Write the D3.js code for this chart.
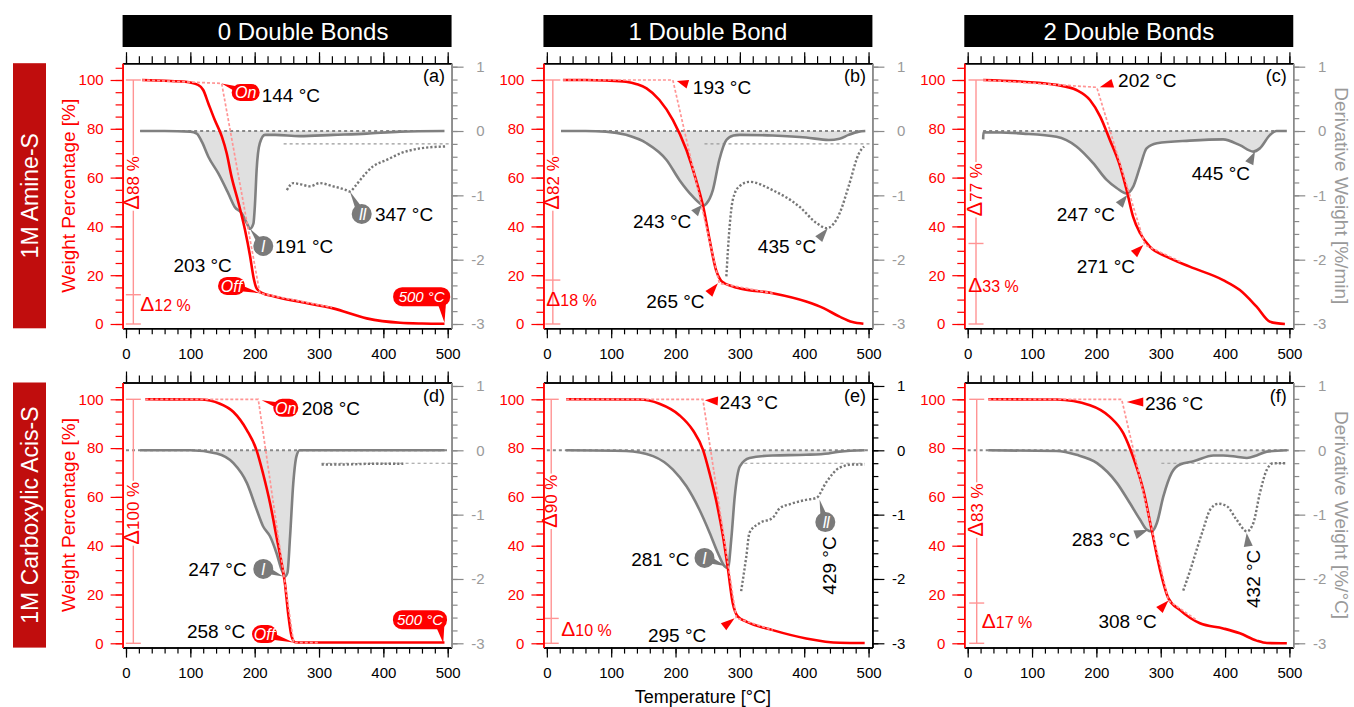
<!DOCTYPE html>
<html><head><meta charset="utf-8">
<script src="https://cdn.jsdelivr.net/npm/d3@7"></script>
<style>
body{margin:0;background:#fff}
text{font-family:"Liberation Sans",Arial,Helvetica,sans-serif}
</style>
</head><body>
<svg id="c" width="1354" height="707"></svg>
<script>
// ---------------- categories / labels ----------------
const colTitles = ["0 Double Bonds", "1 Double Bond", "2 Double Bonds"];
const rowLabels = ["1M Amine-S", "1M Carboxylic Acis-S"];
const panelLetters = ["(a)", "(b)", "(c)", "(d)", "(e)", "(f)"];
const tempTicks = [0, 100, 200, 300, 400, 500];
const weightTicks = [0, 20, 40, 60, 80, 100];
const derivTicks = [-3, -2, -1, 0, 1];
const xTitle = "Temperature [°C]";
const yLeftTitle = "Weight Percentage [%]";
const yRightTitles = ["Derivative Weight [%/min]", "Derivative Weight [%/°C]"];

// ---------------- panel (a) ----------------
const tempTgaA = [25, 60, 92, 112, 120, 128, 138, 149, 156.5, 164, 175, 185, 193, 198, 203, 211, 232, 270, 322, 374, 426, 460, 495];
const weightA  = [100, 99.7, 99.3, 98, 95.9, 90.4, 83.6, 76.8, 70, 60.4, 49.5, 38.5, 27.6, 19.4, 14.6, 12.8, 11.2, 9.1, 6.4, 2.3, 0.5, 0.2, 0.1];
const tempDtgA = [22, 60, 100, 110, 118, 128, 143.5, 159, 169, 180, 188, 192.7, 198, 200.5, 203, 208, 216, 232, 270, 322, 374, 426, 495];
const derivA   = [0, 0, -0.01, -0.04, -0.17, -0.4, -0.66, -0.97, -1.18, -1.28, -1.44, -1.52, -1.44, -1.13, -0.61, -0.19, -0.06, -0.06, -0.08, -0.06, -0.04, -0.01, 0];
const tempMagA = [250, 260, 272, 286, 301, 322, 340, 348, 356, 364, 384, 405, 426, 457, 496];
const magA     = [-0.92, -0.81, -0.83, -0.86, -0.81, -0.86, -0.91, -0.94, -0.86, -0.76, -0.55, -0.45, -0.35, -0.27, -0.24];
const tanTA    = [25, 148.7, 208, 320];
const tanWA    = [100, 98.6, 12.6, 6.8];

// ---------------- panel (b) ----------------
const tempTgaB = [25, 60, 92, 123, 140, 155, 175, 196, 217, 232, 243, 253, 263, 270, 276, 290, 300, 351, 403, 430, 455, 475, 492];
const weightB  = [100, 100, 99.8, 99.3, 98.3, 96.6, 91.8, 83.6, 71.3, 59, 48.1, 34.4, 22.1, 18, 16.7, 15.3, 14.6, 12.6, 9.2, 6.5, 3.0, 0.8, 0.1];
const tempDtgB = [22, 60, 92, 123, 155, 186, 206, 227, 240, 244, 248, 258, 268, 279, 290, 300, 351, 403, 438, 455, 469, 485, 495];
const derivB   = [0, 0, -0.01, -0.06, -0.19, -0.45, -0.76, -1.02, -1.14, -1.16, -1.13, -0.92, -0.45, -0.14, -0.07, -0.06, -0.07, -0.1, -0.14, -0.12, -0.06, -0.01, 0];
const tempMagB = [279, 284, 289, 299, 315, 351, 393, 419, 435, 455, 469, 485, 493];
const magB     = [-2.26, -1.49, -1.07, -0.86, -0.79, -0.92, -1.18, -1.43, -1.51, -1.28, -0.86, -0.35, -0.24];
const tanTB    = [25, 195.8, 268, 351];
const tanWB    = [100, 100, 16.7, 12.6];

// ---------------- panel (c) ----------------
const tempTgaC = [24, 86, 138, 169, 190, 206, 221, 237, 247, 257, 268, 283, 309, 345, 397, 423, 449, 470, 493];
const weightC  = [100, 99.3, 98, 95.9, 91.8, 85, 75.4, 64.5, 54.9, 44, 37.2, 31.7, 27.6, 23.5, 18, 13.9, 7.1, 0.9, 0];
const tempDtgC = [24, 24.5, 86, 138, 169, 195, 216, 232, 247, 257, 268, 278, 294, 345, 397, 423, 444, 454, 470, 480, 496];
const derivC   = [-0.13, -0.02, -0.04, -0.09, -0.24, -0.5, -0.76, -0.89, -0.97, -0.87, -0.55, -0.27, -0.19, -0.15, -0.13, -0.22, -0.32, -0.27, -0.06, 0, 0];
const tanTC    = [24, 200.6, 275.6, 331];
const tanWC    = [100, 97, 32.4, 25.5];

// ---------------- panel (d) ----------------
const tempTgaD = [30, 115, 146, 167, 188, 203, 213, 224, 234, 242, 247, 252, 257.5, 263, 270, 300, 400, 495];
const weightD  = [100, 99.9, 98.2, 94.8, 87.3, 79.1, 69.6, 57.3, 43.6, 32.7, 24.6, 12.3, 2.7, 0.4, 0.3, 0.3, 0.3, 0.3];
const tempDtgD = [22, 100, 141, 167, 188, 203, 213, 224, 234, 242, 247, 251, 255, 260, 265, 270, 300, 495];
const derivD   = [0, 0, -0.05, -0.2, -0.51, -0.92, -1.18, -1.34, -1.6, -1.86, -1.96, -1.9, -1.34, -0.51, -0.09, 0, 0, 0];
const tempMagD = [304, 340, 380, 431];
const magD     = [-0.22, -0.22, -0.21, -0.21];
const tanTD    = [30, 205.6, 260.5, 300];
const tanWD    = [100, 100, 0.3, 0.3];

// ---------------- panel (e) ----------------
const tempTgaE = [30, 144, 175, 206, 227, 243, 253, 263, 274, 281, 289, 297, 310, 351, 403, 455, 494];
const weightE  = [100, 99.9, 98.2, 93.5, 87.3, 79.1, 69.6, 58.7, 43.6, 31.4, 16.4, 10.9, 8.9, 5.4, 2, 0.2, 0.1];
const tempDtgE = [30, 123, 165, 196, 217, 237, 253, 266, 276, 281.4, 287, 292, 300, 315, 351, 403, 438, 455, 494];
const derivE   = [0, -0.01, -0.09, -0.3, -0.56, -0.92, -1.28, -1.6, -1.8, -1.83, -1.34, -0.72, -0.25, -0.12, -0.08, -0.07, -0.05, -0.02, 0];
const tempMagE = [302, 310, 315, 331, 351, 362, 377, 403, 419, 434, 455, 476, 494];
const magE     = [-2.19, -1.65, -1.28, -1.13, -1.05, -0.9, -0.84, -0.77, -0.74, -0.5, -0.27, -0.22, -0.22];
const tanTE    = [30, 242.5, 294.4, 351];
const tanWE    = [100, 100, 10.4, 5.4];

// ---------------- panel (f) ----------------
const tempTgaF = [32, 138, 190, 221, 242, 257, 273, 286, 299, 312, 330, 361, 397, 423, 449, 465, 496];
const weightF  = [100, 99.9, 97.6, 92.8, 86, 76.4, 62.7, 46.4, 30, 18.4, 13.6, 8.2, 6.1, 4.1, 1.1, 0.1, 0];
const tempDtgF = [32, 138, 169, 201, 232, 252, 268, 278, 286, 294, 304, 317, 330, 351, 382, 397, 418, 434, 449, 465, 496];
const derivF   = [0, -0.01, -0.07, -0.2, -0.51, -0.82, -1.08, -1.23, -1.26, -1.13, -0.72, -0.35, -0.22, -0.17, -0.08, -0.08, -0.1, -0.12, -0.08, -0.02, 0];
const tempMagF = [335, 346, 356, 366, 377, 390, 403, 418, 434, 444, 454, 465, 475, 496];
const magF     = [-2.18, -1.86, -1.54, -1.23, -0.92, -0.83, -0.87, -1.08, -1.26, -1.13, -0.67, -0.3, -0.2, -0.2];
const tanTF    = [32, 239.3, 312, 356];
const tanWF    = [100, 100, 17.5, 9.5];

// mass-loss steps (Δ brackets)
const stepsA = [100, 12, 0], stepsB = [100, 18, 0], stepsC = [100, 33, 0];
const stepsD = [100, 0], stepsE = [100, 10.2, 0], stepsF = [100, 16.5, 0];
const deltaTextsA = ["88 %", "12 %"], deltaTextsB = ["82 %", "18 %"], deltaTextsC = ["77 %", "33 %"];
const deltaTextsD = ["100 %"], deltaTextsE = ["90 %", "10 %"], deltaTextsF = ["83 %", "17 %"];

// ---------------- build panels ----------------
const zip = (a, b) => a.map((v, i) => [v, b[i]]);
const panels = [
  {col:0,row:0, tga:zip(tempTgaA,weightA), dtg:zip(tempDtgA,derivA), mag:zip(tempMagA,magA), tan:zip(tanTA,tanWA),
   magBase:[245,506], zeroBase:[22,496], steps:stepsA, dtx:deltaTextsA,
   bracket:{T:11.4, big:57.8, small:7.8, sdx:7},
   ann:[
    {kind:'pill',color:'red',at:[148.7,98.6,'L'],c:[24,9],w:28,h:17,label:'On',text:{s:'144 °C',d:[40,18.3]}},
    {kind:'circle',color:'gray',at:[192.7,-1.52,'R'],c:[13.3,17.2],w:20,h:20,label:'I',text:{s:'191 °C',d:[25,24.2]}},
    {kind:'circle',color:'gray',at:[348,-0.94,'R'],c:[11.8,22.5],w:20,h:20,label:'II',text:{s:'347 °C',d:[25,29.2]}},
    {kind:'pill',color:'red',at:[208,12.6,'L'],c:[-28.3,-7.3],w:27,h:18,label:'Off',text:{s:'203 °C',d:[-28,-21.6],anchor:'end'}},
    {kind:'rect',color:'red',at:[495,0.5,'L'],c:[-22.8,-26.1],w:57,h:19,tb:[20,5],label:'500 °C'}
   ]},
  {col:1,row:0, tga:zip(tempTgaB,weightB), dtg:zip(tempDtgB,derivB), mag:zip(tempMagB,magB), tan:zip(tanTB,tanWB),
   magBase:[245,503], zeroBase:[22,496], steps:stepsB, dtx:deltaTextsB,
   bracket:{T:9.3, big:57.8, small:9.8, sdx:-6.6},
   ann:[
    {kind:'tri',color:'red',at:[195.8,100,'L'],tip:[4,1],c:[11,3.2],text:{s:'193 °C',d:[16,13]}},
    {kind:'tri',color:'red',at:[268,16.7,'L'],tip:[-1.4,0],c:[-9,10.7],text:{s:'265 °C',d:[-13.3,25],anchor:'end'}},
    {kind:'tri',color:'gray',at:[243,-1.15,'R'],tip:[-1.3,0],c:[-7.3,8.3],text:{s:'243 °C',d:[-10.6,23.3],anchor:'end'}},
    {kind:'tri',color:'gray',at:[435,-1.51,'R'],tip:[1,0],c:[-9,11],text:{s:'435 °C',d:[-11.6,25],anchor:'end'}}
   ]},
  {col:2,row:0, tga:zip(tempTgaC,weightC), dtg:zip(tempDtgC,derivC), mag:null, tan:zip(tanTC,tanWC),
   magBase:null, zeroBase:[24,496], steps:stepsC, dtx:deltaTextsC,
   bracket:{T:12.9, big:55, small:15.6, sdx:-7.7},
   ann:[
    {kind:'tri',color:'red',at:[200.6,97,'L'],tip:[3,0],c:[13,-4],text:{s:'202 °C',d:[18.3,0]}},
    {kind:'tri',color:'red',at:[275.6,32.4,'L'],tip:[-1.7,0],c:[-9.3,9],text:{s:'271 °C',d:[-8.3,28.3],anchor:'end'}},
    {kind:'tri',color:'gray',at:[247,-0.97,'R'],tip:[0.7,1.6],c:[-8,10],text:{s:'247 °C',d:[-12.3,25.7],anchor:'end'}},
    {kind:'tri',color:'gray',at:[444,-0.32,'R'],tip:[1.6,0],c:[-5.7,11.6],text:{s:'445 °C',d:[-5,28.3],anchor:'end'}}
   ]},
  {col:0,row:1, tga:zip(tempTgaD,weightD), dtg:zip(tempDtgD,derivD), mag:zip(tempMagD,magD), tan:zip(tanTD,tanWD),
   magBase:[304,506], zeroBase:[0,500], steps:stepsD, dtx:deltaTextsD,
   bracket:{T:11.4, big:53.3},
   ann:[
    {kind:'pill',color:'red',at:[205.6,100,'L'],tip:[3.4,1],c:[24.1,7.5],w:25,h:18,label:'On',text:{s:'208 °C',d:[40,15]}},
    {kind:'pill',color:'red',at:[260.5,0.3,'L'],c:[-29.1,-8.5],w:25,h:18,label:'Off',text:{s:'258 °C',d:[-48.3,-4.4],anchor:'end'}},
    {kind:'rect',color:'red',at:[495,0.3,'L'],tip:[-1.2,0.7],c:[-23.3,-23.6],w:54,h:19,tb:[20,5],label:'500 °C'},
    {kind:'circle',color:'gray',at:[247.1,-1.96,'R'],tip:[-1.7,0],c:[-20,-7.5],w:20,h:20,label:'I',text:{s:'247 °C',d:[-36.6,0],anchor:'end'}}
   ]},
  {col:1,row:1, tga:zip(tempTgaE,weightE), dtg:zip(tempDtgE,derivE), mag:zip(tempMagE,magE), tan:zip(tanTE,tanWE),
   magBase:[307,494], zeroBase:[0,500], steps:stepsE, dtx:deltaTextsE, rightBlack:true,
   bracket:{T:6.8, big:58.2, small:5.4, sdx:10},
   ann:[
    {kind:'tri',color:'red',at:[242.5,100,'L'],tip:[2,1],c:[13,0.7],text:{s:'243 °C',d:[14.7,8.3]}},
    {kind:'tri',color:'red',at:[294.4,10.4,'L'],tip:[-1.7,0.4],c:[-11,8.4],text:{s:'295 °C',d:[-28.3,23.4],anchor:'end'}},
    {kind:'circle',color:'gray',at:[281.4,-1.83,'R'],tip:[-1.7,-1.7],c:[-21.7,-8.4],w:20,h:20,label:'I',text:{s:'281 °C',d:[-36.7,0],anchor:'end'}},
    {kind:'circle',color:'gray',at:[421,-0.74,'R'],tip:[1.8,1.7],c:[5.8,22.5],w:20,h:20,label:'II',text:{s:'429 °C',d:[16.7,36.7],anchor:'end',rot:-90}}
   ]},
  {col:2,row:1, tga:zip(tempTgaF,weightF), dtg:zip(tempDtgF,derivF), mag:zip(tempMagF,magF), tan:zip(tanTF,tanWF),
   magBase:[301,495], zeroBase:[0,500], steps:stepsF, dtx:deltaTextsF,
   bracket:{T:14, big:54.6, small:8.7, sdx:5},
   ann:[
    {kind:'tri',color:'red',at:[239.3,100,'L'],tip:[5,2.7],c:[16.6,0],text:{s:'236 °C',d:[18.3,7.6]}},
    {kind:'tri',color:'red',at:[312,17.5,'L'],c:[-9,9.4],text:{s:'308 °C',d:[-11.7,27.7],anchor:'end'}},
    {kind:'tri',color:'gray',at:[286,-1.26,'R'],tip:[-3.4,-1.7],c:[-13.3,5],text:{s:'283 °C',d:[-18.3,16.7],anchor:'end'}},
    {kind:'tri',color:'gray',at:[433.6,-1.26,'R'],tip:[0,1.6],c:[1.6,13.4],text:{s:'432 °C',d:[13.3,16.7],anchor:'end',rot:-90}}
   ]}
];

// ---------------- layout ----------------
const KX = 0.6434, KL = 2.44, KR = 64.33;
const colX0 = [126, 546.85, 967.7];
const rowY0 = [324, 643.3];
const titleDx = [16, 0, 0];
const RED = "#ff0000", GRAY = "#808080", PINK = "#ff9494", REDBOX = "#c00d0d";

const svg = d3.select("#c");

function styleAxis(g, col, fs) {
  g.selectAll(".domain").attr("stroke", col).attr("stroke-width", 1.5);
  g.selectAll(".tick line").attr("stroke", col).attr("stroke-width", 1.2);
  g.selectAll("text").attr("font-size", fs || 15).attr("font-family", '"Liberation Sans",Arial,sans-serif');
}

panels.forEach((p, pi) => {
  const x0 = colX0[p.col], y0 = rowY0[p.row];
  const fl = x0 - 5.3 * KX, fr = x0 + 506 * KX;
  const top = y0 - 260.8, bot = y0 + 4.3;
  const x = d3.scaleLinear().domain([-5.3, 506]).range([fl, fr]);
  const yL = d3.scaleLinear().domain([0, 100]).range([y0, y0 - 100 * KL]);
  const yR = d3.scaleLinear().domain([-3, 1]).range([y0, y0 - 4 * KR]);
  const yLa = d3.scaleLinear().domain([yL.invert(bot), yL.invert(top)]).range([bot, top]);
  const yRa = d3.scaleLinear().domain([yR.invert(bot), yR.invert(top)]).range([bot, top]);
  const g = svg.append("g");

  // title box (top row)
  if (p.row === 0) {
    svg.append("rect").attr("x", fl).attr("y", 15).attr("width", fr - fl).attr("height", 32).attr("fill", "#000");
    svg.append("text").attr("x", (fl + fr) / 2 + titleDx[p.col]).attr("y", 39.5).attr("text-anchor", "middle")
      .attr("fill", "#fff").attr("font-size", 24).text(colTitles[p.col]);
  }

  // DTG fill
  const areaGen = d3.area().x(d => x(d[0])).y0(yR(0)).y1(d => yR(d[1])).curve(d3.curveMonotoneX);
  g.append("path").datum(p.dtg).attr("d", areaGen).attr("fill", "#e0e0e0");
  // zero baseline
  g.append("line").attr("x1", x(p.zeroBase[0])).attr("x2", x(p.zeroBase[1]))
    .attr("y1", yR(0)).attr("y2", yR(0)).attr("stroke", "#888").attr("stroke-width", 2).attr("stroke-dasharray", "3,3");
  // magnified baseline
  if (p.magBase) {
    g.append("line").attr("x1", x(p.magBase[0])).attr("x2", x(p.magBase[1]))
      .attr("y1", yR(-0.2)).attr("y2", yR(-0.2)).attr("stroke", "#999").attr("stroke-width", 1.1).attr("stroke-dasharray", "3,3");
  }
  const lineR = d3.line().x(d => x(d[0])).y(d => yR(d[1])).curve(d3.curveMonotoneX);
  const lineL = d3.line().x(d => x(d[0])).y(d => yL(d[1])).curve(d3.curveMonotoneX);
  g.append("path").datum(p.dtg).attr("d", lineR).attr("fill", "none").attr("stroke", GRAY).attr("stroke-width", 2.6);
  if (p.mag) {
    g.append("path").datum(p.mag).attr("d", lineR).attr("fill", "none").attr("stroke", "#777")
      .attr("stroke-width", 2.4).attr("stroke-dasharray", "2.2,2");
  }
  // TGA
  g.append("path").datum(p.tga).attr("d", lineL).attr("fill", "none").attr("stroke", RED).attr("stroke-width", 2.6);
  // tangents
  g.append("path").datum(p.tan).attr("d", d3.line().x(d => x(d[0])).y(d => yL(d[1])))
    .attr("fill", "none").attr("stroke", PINK).attr("stroke-width", 1.7).attr("stroke-dasharray", "3,2");

  // Δ bracket
  const bx = x(p.bracket.T);
  g.append("line").attr("x1", bx).attr("x2", bx).attr("y1", yL(100)).attr("y2", yL(0))
    .attr("stroke", PINK).attr("stroke-width", 1.4);
  p.steps.forEach(s => {
    g.append("line").attr("x1", bx - 7.5).attr("x2", bx + 7.5).attr("y1", yL(s)).attr("y2", yL(s))
      .attr("stroke", PINK).attr("stroke-width", 1.4);
  });
  const bg = g.append("g").attr("transform", `translate(${bx},${yL(p.bracket.big)}) rotate(-90)`);
  const bgr = bg.append("rect").attr("fill", "#fff");
  const bt = bg.append("text").attr("text-anchor", "middle").attr("dy", "0.35em").attr("fill", RED).attr("font-size", 17);
  bt.append("tspan").attr("font-size", 22).text("Δ");
  bt.append("tspan").text(p.dtx[0]);
  const bb = bt.node().getBBox();
  bgr.attr("x", bb.x - 1).attr("y", bb.y + 2).attr("width", bb.width + 2).attr("height", bb.height - 4);
  if (p.dtx.length > 1) {
    const st = g.append("text").attr("x", bx + p.bracket.sdx).attr("y", yL(p.bracket.small)).attr("dy", "0.35em")
      .attr("fill", RED).attr("font-size", 16);
    st.append("tspan").attr("font-size", 21).text("Δ");
    st.append("tspan").text(p.dtx[1]);
  }

  // annotations
  p.ann.forEach(a => {
    const [T, v, ax] = a.at;
    const px = x(T), py = ax === "L" ? yL(v) : yR(v);
    const tip = [px + (a.tip ? a.tip[0] : 0), py + (a.tip ? a.tip[1] : 0)];
    const col = a.color === "red" ? "#f00" : "#7a7a7a";
    const c = [tip[0] + a.c[0], tip[1] + a.c[1]];
    if (a.kind === "tri") {
      const dx = tip[0] - c[0], dy = tip[1] - c[1], L = Math.hypot(dx, dy);
      const nx = -dy / L * 4.5, ny = dx / L * 4.5;
      g.append("path").attr("d", `M${tip[0]},${tip[1]}L${c[0] + nx},${c[1] + ny}L${c[0] - nx},${c[1] - ny}Z`).attr("fill", col);
    } else {
      const tb = a.tb ? [c[0] + a.tb[0], c[1] + a.tb[1]] : c;
      const dx = tip[0] - tb[0], dy = tip[1] - tb[1], L = Math.hypot(dx, dy);
      const hw = 4.5, nx = -dy / L * hw, ny = dx / L * hw;
      g.append("path").attr("d", `M${tip[0]},${tip[1]}L${tb[0] + nx},${tb[1] + ny}L${tb[0] - nx},${tb[1] - ny}Z`).attr("fill", col);
      const rr = a.kind === "rect" ? 9 : a.h / 2;
      g.append("rect").attr("x", c[0] - a.w / 2).attr("y", c[1] - a.h / 2).attr("width", a.w).attr("height", a.h)
        .attr("rx", rr).attr("ry", rr).attr("fill", col);
      g.append("text").attr("x", c[0] + (a.label === "II" ? 0.5 : 0)).attr("y", c[1]).attr("dy", "0.36em").attr("text-anchor", "middle")
        .attr("fill", "#fff").attr("font-style", "italic").attr("font-size", a.kind === "rect" ? 15 : 16)
        .attr("letter-spacing", a.label === "II" ? -1 : 0).text(a.label);
    }
    if (a.text) {
      const tx = tip[0] + a.text.d[0], ty = tip[1] + a.text.d[1];
      const t = g.append("text").attr("fill", "#000").attr("font-size", 19)
        .attr("text-anchor", a.text.anchor || "start").text(a.text.s);
      if (a.text.rot) t.attr("transform", `translate(${tx},${ty}) rotate(${a.text.rot})`);
      else t.attr("x", tx).attr("y", ty);
    }
  });

  // axes
  const gb = g.append("g").attr("transform", `translate(0,${bot})`);
  gb.append("g").call(d3.axisBottom(x).tickValues(d3.range(0, 501, 20)).tickSize(6).tickSizeOuter(0).tickFormat(""));
  const gbm = gb.append("g").call(d3.axisBottom(x).tickValues(tempTicks).tickSize(10).tickSizeOuter(0).tickPadding(10));
  styleAxis(gb, "#000");
  gbm.selectAll("text").attr("fill", "#000");
  const gt = g.append("g").attr("transform", `translate(0,${top})`);
  gt.append("g").call(d3.axisTop(x).tickValues(d3.range(0, 501, 20)).tickSize(7).tickSizeOuter(0).tickFormat(""));
  gt.append("g").call(d3.axisTop(x).tickValues(tempTicks).tickSize(11).tickSizeOuter(0).tickFormat(""));
  styleAxis(gt, "#000");

  const gl = g.append("g").attr("transform", `translate(${fl},0)`);
  gl.append("g").call(d3.axisLeft(yLa).tickValues(d3.range(0, 106, 5)).tickSize(7).tickSizeOuter(0).tickFormat(""));
  gl.append("g").call(d3.axisLeft(yLa).tickValues(weightTicks).tickSize(12).tickSizeOuter(0).tickPadding(7));
  styleAxis(gl, RED);
  gl.selectAll("text").attr("fill", RED);

  const rc = p.rightBlack ? "#000" : "#8a8a8a";
  const rtc = p.rightBlack ? "#000" : "#9a9a9a";
  const gr = g.append("g").attr("transform", `translate(${fr},0)`);
  gr.append("g").call(d3.axisRight(yRa).tickValues(d3.range(-15, 6).map(i => i / 5)).tickSize(6).tickSizeOuter(0).tickFormat(""));
  gr.append("g").call(d3.axisRight(yRa).tickValues(derivTicks).tickSize(12).tickSizeOuter(0).tickFormat(d => String(d)));
  styleAxis(gr, rc);
  gr.selectAll("text").attr("fill", rtc).attr("text-anchor", "end").attr("x", 33);

  // panel letter
  g.append("text").attr("x", fr - 6.5).attr("y", top + 19).attr("text-anchor", "end").attr("font-size", 18)
    .attr("fill", "#000").text(panelLetters[pi]);

  // side labels
  const cy = (top + bot) / 2;
  if (p.col === 0) {
    svg.append("rect").attr("x", 13).attr("y", top).attr("width", 33).attr("height", bot - top).attr("fill", REDBOX);
    svg.append("text").attr("transform", `translate(29.5,${cy}) rotate(-90)`).attr("text-anchor", "middle")
      .attr("dy", "0.35em").attr("fill", "#fff").attr("font-size", 23).text(rowLabels[p.row]);
    svg.append("text").attr("transform", `translate(68,${cy}) rotate(-90)`).attr("text-anchor", "middle")
      .attr("dy", "0.35em").attr("fill", RED).attr("font-size", 19).text(yLeftTitle);
  }
  if (p.col === 2) {
    svg.append("text").attr("transform", `translate(1341.5,${cy}) rotate(90)`).attr("text-anchor", "middle")
      .attr("dy", "0.35em").attr("fill", "#9a9a9a").attr("font-size", 19).text(yRightTitles[p.row]);
  }
  if (p.col === 1 && p.row === 1) {
    svg.append("text").attr("x", (fl + fr) / 2 - 5).attr("y", 697).attr("dy", "0.35em").attr("text-anchor", "middle")
      .attr("font-size", 18).attr("fill", "#000").text(xTitle);
  }
});
</script>
</body></html>
